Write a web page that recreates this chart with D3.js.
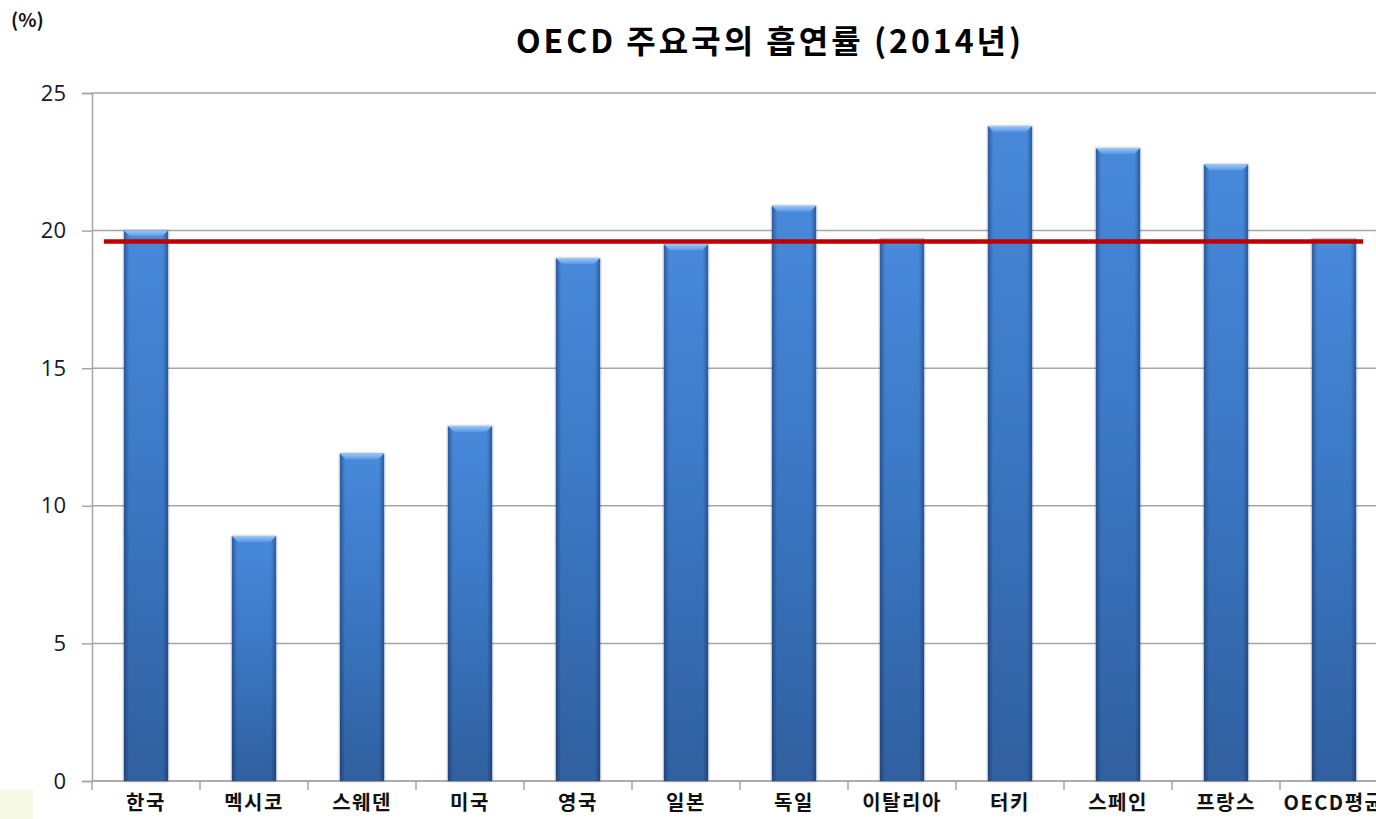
<!DOCTYPE html>
<html>
<head>
<meta charset="utf-8">
<script src="https://cdn.jsdelivr.net/npm/d3@7"></script>
<style>
  body { margin: 0; background: #fff; overflow: hidden; }
  svg text { font-family: "Noto Sans CJK KR", "Noto Sans", sans-serif; }
</style>
</head>
<body>
<div id="chart"></div>
<script>
// Data - smoking rate of major OECD countries (2014)
const countries = ['한국', '멕시코', '스웨덴', '미국', '영국', '일본', '독일', '이탈리아', '터키', '스페인', '프랑스', 'OECD평균']
const rates = [20.0, 8.9, 11.9, 12.9, 19.0, 19.5, 20.9, 19.7, 23.8, 23.0, 22.4, 19.7]
const oecdAverage = 19.6
const yTicks = [0, 5, 10, 15, 20, 25]

// Dimensions
const width = 1376
const height = 819
const margin = { top: 93, left: 92, bottom: 38 }
const step = 108

const svg = d3.select('#chart')
    .append('svg')
    .attr('width', width)
    .attr('height', height)

const defs = svg.append('defs')

// vertical gradient of the bars
const vGrad = defs.append('linearGradient')
    .attr('id', 'barGrad')
    .attr('x1', 0).attr('y1', 0).attr('x2', 0).attr('y2', 1)
vGrad.append('stop').attr('offset', '0%').attr('stop-color', '#4789da')
vGrad.append('stop').attr('offset', '50%').attr('stop-color', '#3a76c2')
vGrad.append('stop').attr('offset', '100%').attr('stop-color', '#30609f')

// darker side edges
const hGrad = defs.append('linearGradient')
    .attr('id', 'edgeGrad')
    .attr('x1', 0).attr('y1', 0).attr('x2', 1).attr('y2', 0)
hGrad.append('stop').attr('offset', '0%').attr('stop-color', '#0a2250').attr('stop-opacity', 0.45)
hGrad.append('stop').attr('offset', '12%').attr('stop-color', '#0a2250').attr('stop-opacity', 0)
hGrad.append('stop').attr('offset', '88%').attr('stop-color', '#0a2250').attr('stop-opacity', 0)
hGrad.append('stop').attr('offset', '100%').attr('stop-color', '#0a2250').attr('stop-opacity', 0.45)

const capGrad = defs.append('linearGradient')
    .attr('id', 'capGrad')
    .attr('x1', 0).attr('y1', 0).attr('x2', 0).attr('y2', 1)
capGrad.append('stop').attr('offset', '0%').attr('stop-color', '#9cc8f7')
capGrad.append('stop').attr('offset', '100%').attr('stop-color', '#5596e4')

const shadow = defs.append('filter')
    .attr('id', 'shadow')
    .attr('x', '-30%').attr('y', '-5%').attr('width', '160%').attr('height', '110%')
shadow.append('feGaussianBlur').attr('in', 'SourceAlpha').attr('stdDeviation', 1.6).attr('result', 'b')
shadow.append('feComponentTransfer').attr('in', 'b').attr('result', 's')
    .append('feFuncA').attr('type', 'linear').attr('slope', 0.35)
const merge = shadow.append('feMerge')
merge.append('feMergeNode').attr('in', 's')
merge.append('feMergeNode').attr('in', 'SourceGraphic')

// Scales
const x = d3.scaleBand()
    .domain(countries)
    .range([margin.left, margin.left + step * countries.length])

const y = d3.scaleLinear()
    .domain([0, 25])
    .range([height - margin.bottom, margin.top])

const barW = x.bandwidth() * 0.41

// Gridlines
svg.append('g')
    .selectAll('line')
    .data(yTicks)
    .join('line')
    .attr('x1', margin.left)
    .attr('x2', width)
    .attr('y1', d => y(d))
    .attr('y2', d => y(d))
    .style('stroke', '#a6a6a6')
    .style('stroke-width', 1.5)

// Y axis
const yAxisGroup = svg.append('g')
    .attr('transform', `translate(${margin.left}, 0)`)
    .call(d3.axisLeft(y).tickValues(yTicks).tickSize(10).tickPadding(16))
yAxisGroup.select('.domain').style('stroke', '#a6a6a6').style('stroke-width', 1.5)
yAxisGroup.selectAll('.tick line').style('stroke', '#a6a6a6').style('stroke-width', 1.5)
yAxisGroup.selectAll('text')
    .style('font-size', '22px')
    .style('font-family', '"Open Sans", "Noto Sans", sans-serif')
    .style('fill', '#141a2a')

// X axis
const xAxisGroup = svg.append('g')
    .attr('transform', `translate(0, ${y(0)})`)
    .call(d3.axisBottom(x).tickSize(0).tickPadding(15))
xAxisGroup.select('.domain').remove()
xAxisGroup.selectAll('text')
    .style('font-size', '20px')
    .style('font-weight', 'bold')
    .style('letter-spacing', '1.5px')
    .style('fill', '#111')

svg.append('line')
    .attr('x1', margin.left).attr('x2', width)
    .attr('y1', y(0)).attr('y2', y(0))
    .style('stroke', '#a6a6a6').style('stroke-width', 1.5)

svg.append('g')
    .selectAll('line')
    .data(countries)
    .join('line')
    .attr('x1', d => x(d)).attr('x2', d => x(d))
    .attr('y1', y(0)).attr('y2', y(0) + 9)
    .style('stroke', '#a6a6a6').style('stroke-width', 1.5)

// Bars
const bars = svg.append('g')
    .selectAll('g')
    .data(countries)
    .join('g')
    .attr('transform', d => `translate(${x(d) + (x.bandwidth() - barW) / 2}, 0)`)

bars.append('rect')
    .attr('x', 0)
    .attr('y', (d, i) => y(rates[i]))
    .attr('width', barW)
    .attr('height', (d, i) => y(0) - y(rates[i]))
    .attr('fill', 'url(#barGrad)')
    .attr('filter', 'url(#shadow)')

bars.append('rect')
    .attr('x', 0)
    .attr('y', (d, i) => y(rates[i]))
    .attr('width', barW)
    .attr('height', (d, i) => y(0) - y(rates[i]))
    .attr('fill', 'url(#edgeGrad)')

bars.append('path')
    .attr('d', (d, i) => {
        const t = y(rates[i])
        return `M0,${t} L${barW},${t} L${barW - 6},${t + 6} L6,${t + 6} Z`
    })
    .attr('fill', 'url(#capGrad)')

// OECD average line
svg.append('line')
    .attr('x1', x(countries[0]) + x.bandwidth() * 0.11)
    .attr('x2', x(countries[countries.length - 1]) + x.bandwidth() * 0.77)
    .attr('y1', y(oecdAverage))
    .attr('y2', y(oecdAverage))
    .style('stroke', '#c00000')
    .style('stroke-width', 4.5)

// Title and unit
svg.append('text')
    .attr('x', 770)
    .attr('y', 53)
    .attr('text-anchor', 'middle')
    .style('font-size', '32px')
    .style('font-weight', 'bold')
    .style('letter-spacing', '3px')
    .style('fill', '#000')
    .text('OECD 주요국의 흡연률 (2014년)')

svg.append('text')
    .attr('x', 11)
    .attr('y', 27)
    .style('font-size', '19px')
    .style('font-weight', 'bold')
    .style('fill', '#111')
    .text('(%)')

// small pale patch at bottom-left
svg.append('rect')
    .attr('x', 0).attr('y', 790)
    .attr('width', 33).attr('height', 29)
    .attr('fill', '#f5f9e6')
</script>
</body>
</html>
